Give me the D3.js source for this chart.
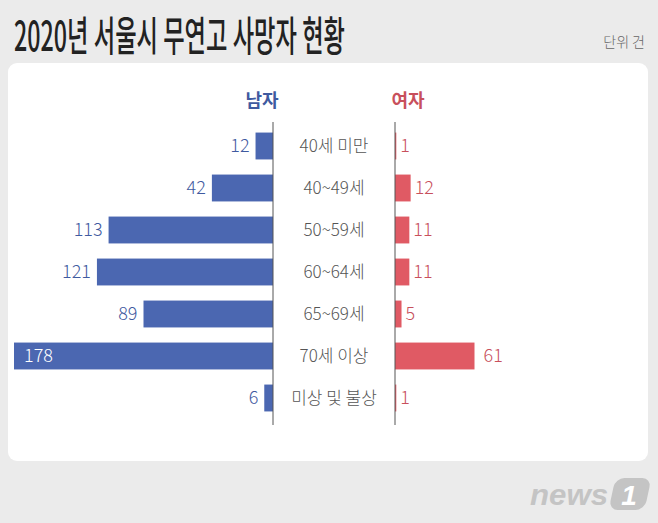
<!DOCTYPE html>
<html>
<head>
<meta charset="utf-8">
<script src="https://cdn.jsdelivr.net/npm/d3@7"></script>
<style>
  body { margin: 0; background: #ebebeb; }
  svg { display: block; font-family: "Noto Sans CJK KR", "Noto Sans", sans-serif; }
</style>
</head>
<body>
<div id="chart"></div>
<script>
// data
const categories = ["40세 미만", "40~49세", "50~59세", "60~64세", "65~69세", "70세 이상", "미상 및 불상"]
const male = [12, 42, 113, 121, 89, 178, 6]
const female = [1, 12, 11, 11, 5, 61, 1]

// layout consts
const width = 658
const height = 523
const maleAxisX = 273
const femaleAxisX = 395
const blue = "#4b67b1"
const red = "#e05a64"

const svg = d3.select("#chart").append("svg")
    .attr("width", width)
    .attr("height", height)

svg.append("rect").attr("width", width).attr("height", height).attr("fill", "#ebebeb")

// card
svg.append("rect")
    .attr("x", 8).attr("y", 63)
    .attr("width", 640).attr("height", 398)
    .attr("rx", 9)
    .attr("fill", "#fff")

// title
svg.append("text")
    .attr("x", 14).attr("y", 51)
    .attr("font-size", 41)
    .attr("font-weight", 500)
    .attr("fill", "#222")
    .attr("textLength", 331)
    .attr("lengthAdjust", "spacingAndGlyphs")
    .text("2020년 서울시 무연고 사망자 현황")

svg.append("text")
    .attr("x", 645).attr("y", 47)
    .attr("text-anchor", "end")
    .attr("font-size", 14)
    .attr("font-weight", 300)
    .attr("fill", "#666")
    .text("단위 건")

// scales
const y = d3.scaleBand()
    .domain(categories)
    .range([125, 419])
    .paddingInner(0.36)
    .paddingOuter(0.18)

const xMale = d3.scaleLinear().domain([0, 178]).range([maleAxisX, 14])
const xFemale = d3.scaleLinear().domain([0, 61]).range([femaleAxisX, 474.5])

// headers
svg.append("text")
    .attr("x", 262).attr("y", 107)
    .attr("text-anchor", "middle")
    .attr("font-size", 18).attr("font-weight", 700)
    .attr("fill", "#3f5aa0")
    .text("남자")
svg.append("text")
    .attr("x", 408).attr("y", 107)
    .attr("text-anchor", "middle")
    .attr("font-size", 18).attr("font-weight", 700)
    .attr("fill", "#c8505c")
    .text("여자")

// male bars
svg.selectAll(".mbar").data(male).join("rect")
    .attr("class", "mbar")
    .attr("x", d => xMale(d))
    .attr("y", (d, i) => y(categories[i]))
    .attr("width", d => maleAxisX - xMale(d))
    .attr("height", y.bandwidth())
    .attr("fill", blue)

// female bars
svg.selectAll(".fbar").data(female).join("rect")
    .attr("class", "fbar")
    .attr("x", femaleAxisX)
    .attr("y", (d, i) => y(categories[i]))
    .attr("width", d => xFemale(d) - femaleAxisX)
    .attr("height", y.bandwidth())
    .attr("fill", red)

// axis lines
svg.append("line")
    .attr("x1", maleAxisX).attr("x2", maleAxisX)
    .attr("y1", 122).attr("y2", 425)
    .attr("stroke", "#555").attr("stroke-width", 1)
svg.append("line")
    .attr("x1", femaleAxisX).attr("x2", femaleAxisX)
    .attr("y1", 122).attr("y2", 425)
    .attr("stroke", "#555").attr("stroke-width", 1)

// male labels
const mmax = d3.max(male)
svg.selectAll(".mlab").data(male).join("text")
    .attr("class", "mlab")
    .attr("x", d => d === mmax ? xMale(d) + 10 : xMale(d) - 6)
    .attr("y", (d, i) => y(categories[i]) + y.bandwidth() / 2)
    .attr("dy", "0.36em")
    .attr("text-anchor", d => d === mmax ? "start" : "end")
    .attr("font-size", 18)
    .attr("font-weight", 300)
    .attr("fill", d => d === mmax ? "#fff" : "#3f5aa0")
    .text(d => d)

// female labels
svg.selectAll(".flab").data(female).join("text")
    .attr("class", "flab")
    .attr("x", d => xFemale(d) + (d > 20 ? 9 : 4))
    .attr("y", (d, i) => y(categories[i]) + y.bandwidth() / 2)
    .attr("dy", "0.36em")
    .attr("font-size", 18)
    .attr("font-weight", 300)
    .attr("fill", "#c8505c")
    .text(d => d)

// category labels
svg.selectAll(".cat").data(categories).join("text")
    .attr("class", "cat")
    .attr("x", 334)
    .attr("y", d => y(d) + y.bandwidth() / 2)
    .attr("dy", "0.36em")
    .attr("text-anchor", "middle")
    .attr("font-size", 17)
    .attr("font-weight", 300)
    .attr("fill", "#555")
    .text(d => d)

// news1 logo
const logo = svg.append("g").attr("fill", "#c4c4c4")
logo.append("text")
    .attr("x", 530).attr("y", 505)
    .attr("font-family", "Liberation Sans, sans-serif")
    .attr("font-size", 30).attr("font-weight", 700).attr("font-style", "italic")
    .attr("textLength", 78).attr("lengthAdjust", "spacingAndGlyphs")
    .text("news")
logo.append("rect")
    .attr("x", 611).attr("y", 478)
    .attr("width", 36).attr("height", 32)
    .attr("rx", 9)
    .attr("transform", "skewX(-12) translate(106,0)")
logo.append("text")
    .attr("x", 629).attr("y", 505)
    .attr("text-anchor", "middle")
    .attr("font-family", "Liberation Sans, sans-serif")
    .attr("font-size", 28).attr("font-weight", 700).attr("font-style", "italic")
    .attr("fill", "#fff")
    .text("1")
</script>
</body>
</html>
